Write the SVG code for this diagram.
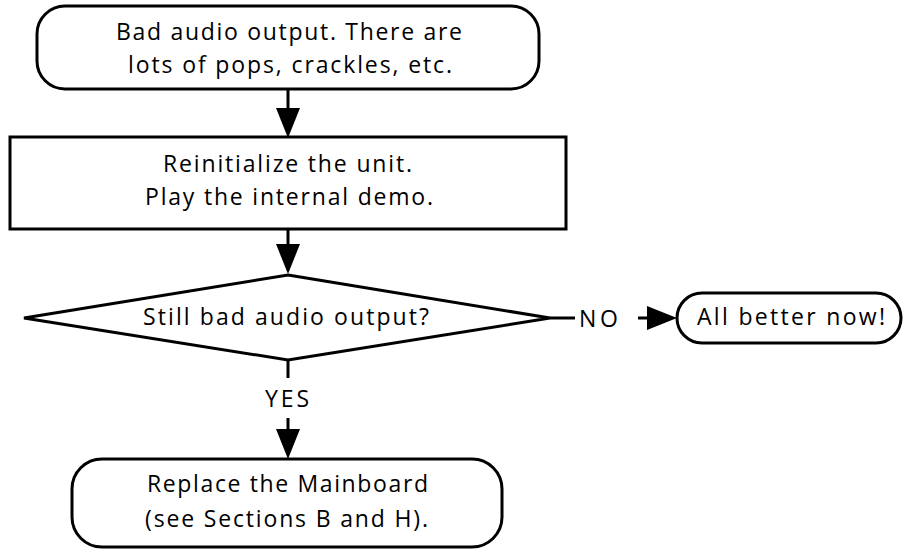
<svg xmlns="http://www.w3.org/2000/svg" width="903" height="550" viewBox="0 0 903 550">
<style>
.shape{fill:#fff;stroke:#000;stroke-width:3}
.conn{fill:none;stroke:#000;stroke-width:3}
text{font-family:"Open Sans","DejaVu Sans",sans-serif;font-size:23px;fill:#000;text-anchor:middle}
</style>
<defs>
<marker id="ah" markerUnits="userSpaceOnUse" markerWidth="32" markerHeight="26" refX="0" refY="12" orient="auto" overflow="visible">
<path d="M0,0 L30,12 L0,24 Z" fill="#000"/>
</marker>
</defs>
<rect width="903" height="550" fill="#fff"/>
<g id="connectors">
<line class="conn" x1="288" y1="89" x2="288" y2="108" marker-end="url(#ah)"/>
<line class="conn" x1="288" y1="229" x2="288" y2="244" marker-end="url(#ah)"/>
<line class="conn" x1="550" y1="318" x2="575" y2="318"/>
<line class="conn" x1="638" y1="318" x2="647" y2="318" marker-end="url(#ah)"/>
<line class="conn" x1="288" y1="360" x2="288" y2="378"/>
<line class="conn" x1="288" y1="418" x2="288" y2="429" marker-end="url(#ah)"/>
<text x="598.5" y="327" textLength="39" lengthAdjust="spacing">NO</text>
<text x="287" y="407" textLength="44" lengthAdjust="spacing">YES</text>
</g>
<g id="start">
<rect class="shape" x="37" y="6" width="502" height="83" rx="28" ry="28"/>
<text x="289" y="40" textLength="346" lengthAdjust="spacing">Bad audio output. There are</text>
<text x="290" y="73" textLength="324" lengthAdjust="spacing">lots of pops, crackles, etc.</text>
</g>
<g id="reinit">
<rect class="shape" x="10" y="137" width="556" height="92"/>
<text x="287.5" y="172" textLength="249" lengthAdjust="spacing">Reinitialize the unit.</text>
<text x="289" y="205" textLength="288" lengthAdjust="spacing">Play the internal demo.</text>
</g>
<g id="decision">
<polygon class="shape" points="288,275 550,318 288,360 24,318"/>
<text x="286" y="325" textLength="286" lengthAdjust="spacing">Still bad audio output?</text>
</g>
<g id="better">
<rect class="shape" x="677" y="293" width="224" height="50" rx="25" ry="25"/>
<text x="791" y="325" textLength="188" lengthAdjust="spacing">All better now!</text>
</g>
<g id="replace">
<rect class="shape" x="72" y="459" width="430" height="88" rx="30" ry="30"/>
<text x="287.5" y="492" textLength="281" lengthAdjust="spacing">Replace the Mainboard</text>
<text x="286.5" y="527" textLength="283" lengthAdjust="spacing">(see Sections B and H).</text>
</g>
</svg>
